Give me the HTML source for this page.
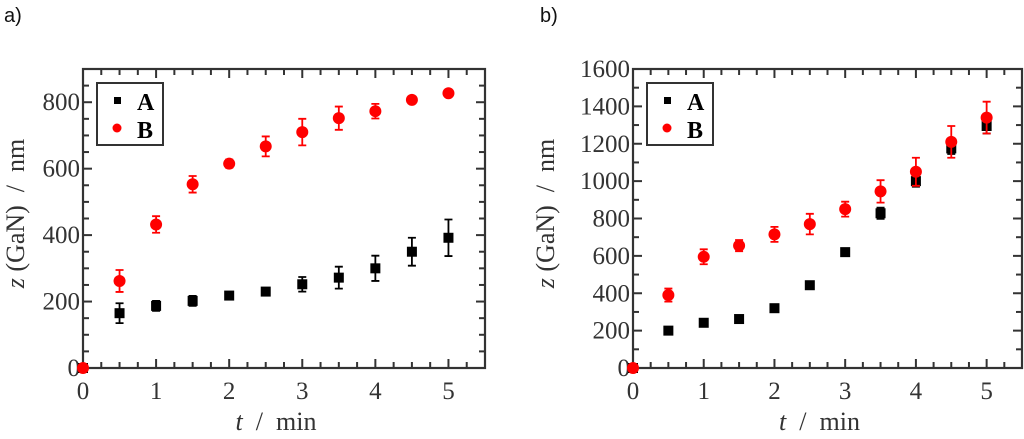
<!DOCTYPE html>
<html><head><meta charset="utf-8"><style>
html,body{margin:0;padding:0;background:#fff;width:1024px;height:439px;overflow:hidden}
svg{display:block}
svg text{font-family:'Liberation Serif',serif;fill:#333;white-space:pre}
</style></head><body>
<svg id="fig" width="1024" height="439" xmlns="http://www.w3.org/2000/svg">
<text x="4" y="22" font-family="Liberation Sans, sans-serif" style="font-family:'Liberation Sans',sans-serif;font-size:20px;fill:#111">a)</text>
<text x="540" y="22" font-family="Liberation Sans, sans-serif" style="font-family:'Liberation Sans',sans-serif;font-size:20px;fill:#111">b)</text>
</svg>
<script>
const xValues=[0,0.5,1,1.5,2,2.5,3,3.5,4,4.5,5];
const aLeft=[0,165,187,202,218,230,252,272,300,350,392];
const aLeftErr=[0,30,15,15,8,8,22,33,38,42,55];
const bLeft=[0,262,432,553,615,667,710,752,773,807,827];
const bLeftErr=[0,33,25,25,12,30,40,35,22,10,8];
const aRight=[0,200,242,262,320,443,620,828,1000,1175,1295];
const aRightErr=[0,8,8,8,8,15,20,30,30,30,40];
const bRight=[0,390,595,655,715,770,850,945,1050,1210,1340];
const bRightErr=[0,35,40,30,40,55,40,60,75,85,85];
const xTicks=[0,1,2,3,4,5];
const yTicksLeft=[0,200,400,600,800];
const yTicksRight=[0,200,400,600,800,1000,1200,1400,1600];
const NS="http://www.w3.org/2000/svg";
const SERIF="Liberation Serif, serif";
const svg=document.getElementById('fig');
function mk(tag,attrs,parent){const e=document.createElementNS(NS,tag);for(const k in attrs)e.setAttribute(k,attrs[k]);(parent||svg).appendChild(e);return e;}
function panel(id,L,R,T,B,ymax,yTicks,yMinor,aV,aE,bV,bE,labelX){
  const g=mk('g',{});
  
  
  const xs=v=>L+(R-L)*v/5.5, ys=v=>B-(B-T)*v/ymax;
  for(let v=0;v<=5.5001;v+=0.25){const major=Math.abs(v-Math.round(v))<1e-6;const len=major?9:6;
    mk('line',{x1:xs(v),x2:xs(v),y1:B,y2:B-len,stroke:'#333','stroke-width':2},g);
    mk('line',{x1:xs(v),x2:xs(v),y1:T,y2:T+len,stroke:'#333','stroke-width':2},g);}
  for(let v=0;v<=ymax+0.001;v+=yMinor){const major=Math.abs(v%200)<1e-6;const len=major?9:6;
    mk('line',{x1:L,x2:L+len,y1:ys(v),y2:ys(v),stroke:'#333','stroke-width':2},g);
    mk('line',{x1:R,x2:R-len,y1:ys(v),y2:ys(v),stroke:'#333','stroke-width':2},g);}
  const frame=mk('rect',{x:L,y:T,width:R-L,height:B-T,fill:'none',stroke:'#333','stroke-width':2.2},g);
  
  
  xTicks.forEach(v=>{const t=mk('text',{x:xs(v),y:B+31,'text-anchor':'middle','font-size':25,'font-family':SERIF},g);t.textContent=v;
    
    });
  yTicks.forEach(v=>{const t=mk('text',{x:L-3,y:ys(v)+8,'text-anchor':'end','font-size':25,'font-family':SERIF},g);t.textContent=v;
    
    });
  const xt=mk('text',{x:(L+R)/2-8,y:430,'text-anchor':'middle','font-size':26,'font-family':SERIF},g);
  xt.innerHTML='<tspan font-style="italic">t</tspan>  /  min';
  
  
  const yt=mk('text',{x:0,y:0,'text-anchor':'middle','font-size':26,'font-family':SERIF,transform:`translate(${labelX},${(T+B)/2-5}) rotate(-90)`},g);
  yt.innerHTML='<tspan font-style="italic">z</tspan> (GaN)  /  nm';
  
  
  xValues.forEach((x,i)=>{const cx=xs(x),cy=ys(aV[i]);
    if(aE[i]>0){const e=mk('path',{d:`M${cx},${ys(aV[i]-aE[i])}V${ys(aV[i]+aE[i])}M${cx-4},${ys(aV[i]-aE[i])}h8M${cx-4},${ys(aV[i]+aE[i])}h8`,stroke:'#000','stroke-width':1.8,fill:'none'},g);
      
      }
    const r=mk('rect',{x:cx-5,y:cy-5,width:10,height:10,fill:'#000'},g);
    
    });
  xValues.forEach((x,i)=>{const cx=xs(x),cy=ys(bV[i]);
    if(bE[i]>0){const e=mk('path',{d:`M${cx},${ys(bV[i]-bE[i])}V${ys(bV[i]+bE[i])}M${cx-4},${ys(bV[i]-bE[i])}h8M${cx-4},${ys(bV[i]+bE[i])}h8`,stroke:'#f00','stroke-width':1.8,fill:'none'},g);
      
      }
    const c=mk('circle',{cx:cx,cy:cy,r:6,fill:'#f00'},g);
    
    });
  const lg=mk('g',{},g);
  
  
  const lx=L+14,ly=T+14;
  mk('rect',{x:lx,y:ly,width:66,height:62,fill:'#fff',stroke:'#333','stroke-width':2},lg);
  mk('rect',{x:lx+17,y:ly+14,width:7,height:7,fill:'#000'},lg);
  mk('circle',{cx:lx+20,cy:ly+45,r:4.5,fill:'#f00'},lg);
  const ta=mk('text',{x:lx+40,y:ly+27,'font-size':24,'font-weight':'bold','font-family':SERIF,style:'fill:#000'},lg);ta.textContent='A';
  
  
  const tb=mk('text',{x:lx+40,y:ly+55,'font-size':24,'font-weight':'bold','font-family':SERIF,style:'fill:#000'},lg);tb.textContent='B';
  
  
}
panel('left',83,485,69,368,900,yTicksLeft,50,aLeft,aLeftErr,bLeft,bLeftErr,24);
panel('right',633,1022,69,368,1600,yTicksRight,100,aRight,aRightErr,bRight,bRightErr,554);
</script>
</body></html>
